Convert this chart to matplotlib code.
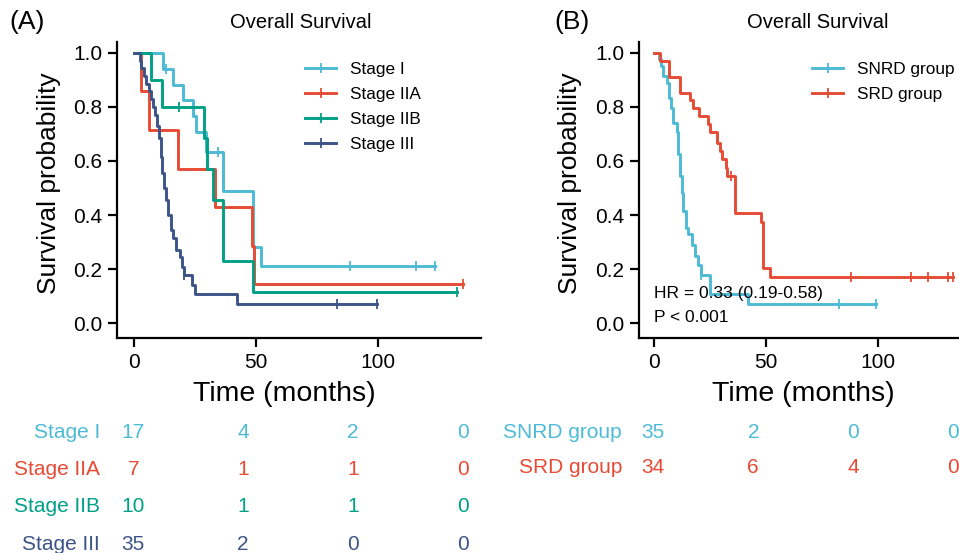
import matplotlib

matplotlib.use("Agg")
import matplotlib.pyplot as plt
from matplotlib.lines import Line2D
import numpy as np

plt.rcParams["font.family"] = ["Liberation Sans", "DejaVu Sans"]

# ---- panel A: overall survival by stage (step curves) ----
stage_names = ["Stage I", "Stage IIA", "Stage IIB", "Stage III"]
stage_colors = ["#4DBBD5", "#E64B35", "#00A087", "#3C5488"]

stage1_t = [0, 11.9, 16.1, 20.2, 24.0, 25.3, 29.5, 36.6, 48.9, 52.0]
stage1_s = [1.0, 0.941, 0.882, 0.824, 0.765, 0.706, 0.633, 0.489, 0.280, 0.212]
stage1_cens = [13.0, 34.4, 88.5, 115.6, 123.4]

stage2a_t = [0, 2.7, 6.3, 17.8, 33.2, 48.5, 49.2]
stage2a_s = [1.0, 0.857, 0.714, 0.571, 0.429, 0.286, 0.143]
stage2a_cens = [135.0]

stage2b_t = [0, 7.0, 11.3, 28.8, 29.8, 32.5, 36.6, 48.9]
stage2b_s = [1.0, 0.900, 0.800, 0.686, 0.571, 0.457, 0.229, 0.114]
stage2b_cens = [18.6, 132.2]

stage3_t = [0, 2.3, 3.0, 4.1, 5.0, 6.0, 6.8, 7.8, 8.5, 9.5, 10.1, 10.9, 11.6, 12.3,
            13.1, 14.1, 15.0, 16.1, 17.2, 18.9, 19.8, 20.4, 23.6, 25.0, 42.3]
stage3_s = [1.0, 0.971, 0.943, 0.914, 0.886, 0.857, 0.829, 0.800, 0.771, 0.729, 0.686,
            0.614, 0.557, 0.500, 0.457, 0.400, 0.343, 0.314, 0.271, 0.243, 0.208,
            0.177, 0.142, 0.106, 0.071]
stage3_cens = [20.6, 83.0, 99.5]

stage_risk = [[17, 4, 2, 0], [7, 1, 1, 0], [10, 1, 1, 0], [35, 2, 0, 0]]

# ---- panel B: SNRD vs SRD ----
group_names = ["SNRD group", "SRD group"]
group_colors = ["#4DBBD5", "#E64B35"]

snrd_t = [0, 2.2, 3.1, 4.2, 5.7, 6.7, 7.6, 8.6, 10.1, 10.9, 11.6, 12.3, 13.1, 14.3,
          15.3, 16.8, 18.3, 19.8, 21.0, 25.0, 42.1]
snrd_s = [1.0, 0.976, 0.951, 0.916, 0.890, 0.833, 0.796, 0.740, 0.708, 0.627, 0.546,
          0.480, 0.414, 0.352, 0.328, 0.290, 0.247, 0.215, 0.178, 0.107, 0.071]
snrd_cens = [21.0, 82.6, 99.0]

srd_t = [0, 2.5, 6.5, 11.8, 16.2, 17.5, 20.0, 24.3, 25.0, 28.3, 29.5, 30.2, 32.1,
         32.7, 36.2, 47.8, 48.8, 51.8]
srd_s = [1.0, 0.971, 0.912, 0.853, 0.824, 0.794, 0.765, 0.735, 0.706, 0.667, 0.637,
         0.607, 0.574, 0.544, 0.408, 0.374, 0.204, 0.170]
srd_cens = [34.2, 87.9, 114.6, 122.5, 131.4, 133.6]

group_risk = [[35, 2, 0, 0], [34, 6, 4, 0]]
risk_times = [0, 50, 100, 150]
hr_text = "HR = 0.33 (0.19-0.58)"
p_text = "P < 0.001"

W, H = 959, 553


def box(x0, y0, x1, y1):
    # pixel box (top-left origin) -> figure fraction rect
    return [x0 / W, 1 - y1 / H, (x1 - x0) / W, (y1 - y0) / H]


def km_plot(ax, times, surv, cens, color):
    end = max(cens[-1], times[-1])
    x = list(times) + [end]
    y = list(surv) + [surv[-1]]
    ax.step(x, y, where="post", color=color, linewidth=2.1)
    idx = np.searchsorted(times, cens, side="right") - 1
    cy = np.asarray(surv)[idx]
    ax.plot(cens, cy, linestyle="none", marker="|", color=color, markersize=7,
            markeredgewidth=1.3)


def style_axes(ax, xlim, px0, px1, xlab_px, ylab_px):
    ax.set_xlim(*xlim)
    ax.set_ylim(-0.055, 1.04)
    for s in ("top", "right"):
        ax.spines[s].set_visible(False)
    for s in ("left", "bottom"):
        ax.spines[s].set_linewidth(1.6)
    ax.set_xticks([0, 50, 100])
    ax.set_yticks([0.0, 0.2, 0.4, 0.6, 0.8, 1.0])
    ax.set_yticklabels(["0.0", "0.2", "0.4", "0.6", "0.8", "1.0"])
    ax.tick_params(width=1.6, length=6.5, labelsize=15, color="black", pad=4)
    ax.set_xlabel("Time (months)", fontsize=20.5)
    ax.xaxis.set_label_coords((xlab_px - px0) / (px1 - px0), -0.145)
    ax.set_ylabel("Survival probability", fontsize=19)
    ax.yaxis.set_label_coords((ylab_px - px0) / (px1 - px0), 0.524)


def add_legend(fig, ax, names, colors, x_px, y_px):
    handles = [Line2D([], [], color=c, linewidth=2.1, marker="|", markersize=7,
                      markeredgewidth=1.3) for c in colors]
    ax.legend(handles, names, loc="upper left", bbox_to_anchor=(x_px / W, 1 - y_px / H),
              bbox_transform=fig.transFigure, frameon=False, fontsize=12.4,
              handlelength=1.8, handletextpad=0.8, labelspacing=0.57, borderpad=0,
              borderaxespad=0, numpoints=1)


def risk_table(fig, rect, xlim, names, colors, risk, row0, sp, lab_px):
    ax = fig.add_axes(rect)
    ax.set_xlim(*xlim)
    ax.set_ylim((553 - row0) / sp, -(row0 - 413) / sp)
    ax.axis("off")
    for i, (n, c, r) in enumerate(zip(names, colors, risk)):
        fig.text(lab_px / W, 1 - (row0 + i * sp) / H, n, color=c, fontsize=15,
                 ha="right", va="center")
        for t, v in zip(risk_times, r):
            ax.text(t, i, str(v), color=c, fontsize=15, ha="center", va="center")
    return ax


fig = plt.figure(figsize=(W / 100, H / 100), dpi=100)

# panel A
axA = fig.add_axes(box(117, 42, 481, 338))
stage_data = [(stage1_t, stage1_s, stage1_cens), (stage2a_t, stage2a_s, stage2a_cens),
              (stage2b_t, stage2b_s, stage2b_cens), (stage3_t, stage3_s, stage3_cens)]
for (t, s, c), col in zip(stage_data, stage_colors):
    km_plot(axA, t, s, c, col)
style_axes(axA, (-7.0, 142.2), 117, 481, 284, 61)
add_legend(fig, axA, stage_names, stage_colors, 305, 62)

# panel B
axB = fig.add_axes(box(639, 42, 997, 338))
group_data = [(snrd_t, snrd_s, snrd_cens), (srd_t, srd_s, srd_cens)]
for (t, s, c), col in zip(group_data, group_colors):
    km_plot(axB, t, s, c, col)
style_axes(axB, (-6.7, 153.1), 639, 997, 803, 582)
add_legend(fig, axB, group_names, group_colors, 812, 62)
axB.text(0, 0.11, hr_text, fontsize=12.5, ha="left", va="center")
axB.text(0, 0.02, p_text, fontsize=12.5, ha="left", va="center")

# titles and panel tags
fig.text(301 / W, 1 - 22 / H, "Overall Survival", fontsize=14.5, ha="center", va="center")
fig.text(818 / W, 1 - 22 / H, "Overall Survival", fontsize=14.5, ha="center", va="center")
fig.text(9 / W, 1 - 22 / H, "(A)", fontsize=19, ha="left", va="center")
fig.text(554 / W, 1 - 22 / H, "(B)", fontsize=19, ha="left", va="center")

# risk tables
risk_table(fig, box(117, 413, 470, 553), (-7.42, 153.3), stage_names, stage_colors,
           stage_risk, 432.5, 37.2, 100)
risk_table(fig, box(639, 413, 957, 553), (-7.15, 151.85), group_names, group_colors,
           group_risk, 432.5, 35.0, 622)

fig.savefig("out.png", dpi=100)
plt.close(fig)
